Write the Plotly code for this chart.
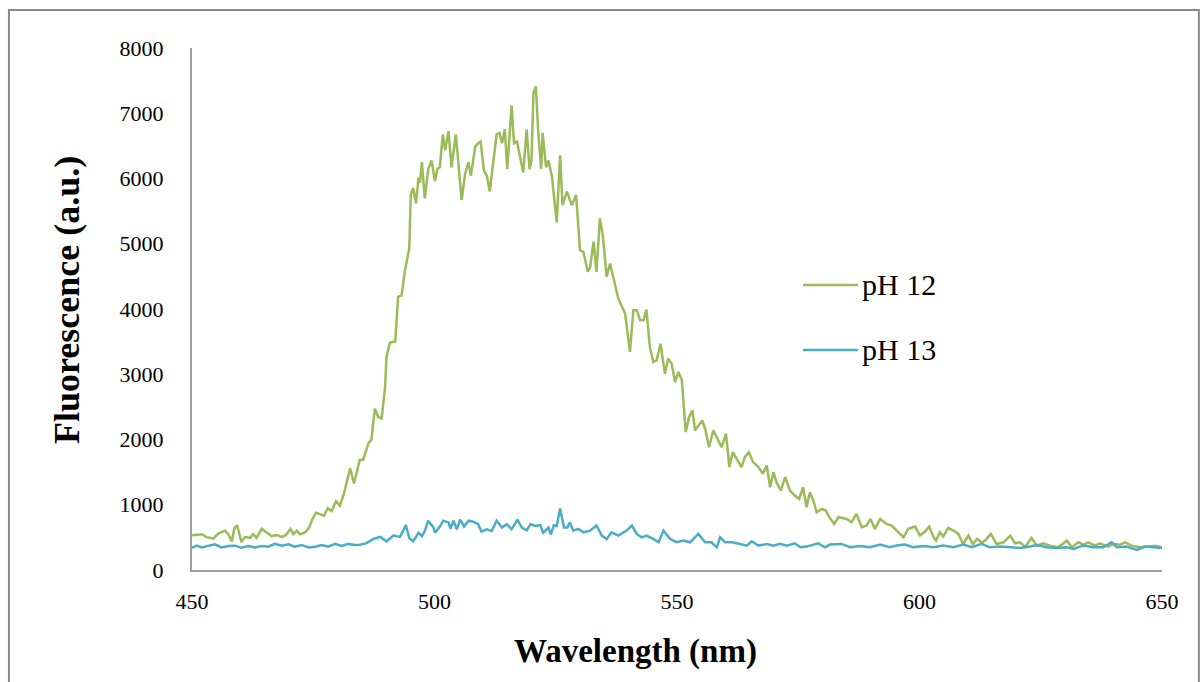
import plotly.graph_objects as go

# pH 12 spectrum (wavelength nm, fluorescence a.u.)
wl_ph12 = [450.0, 452.0, 453.0, 454.4, 455.4, 456.8, 457.5, 458.2, 458.7, 459.3, 460.2, 460.9, 462.0, 462.6, 463.3,
           464.4, 465.4, 466.4, 467.5, 468.5, 469.4, 470.3, 470.9, 471.6, 472.3, 473.3, 474.2, 474.9, 475.6, 476.4,
           477.2, 478.0, 478.8, 479.7, 480.5, 481.3, 481.9, 482.6, 483.4, 484.6, 485.3, 486.4, 487.0, 487.7, 488.4,
           489.1, 489.8, 490.1, 490.8, 491.9, 492.5, 493.2, 493.9, 494.8, 495.1, 495.6, 496.2, 496.7, 497.0, 497.4,
           498.0, 498.7, 499.4, 500.1, 500.6, 501.1, 501.7, 502.2, 502.9, 503.5, 504.4, 505.6, 506.3, 507.0, 507.5,
           508.4, 509.0, 509.5, 510.2, 510.8, 511.4, 512.1, 512.8, 513.4, 513.9, 514.5, 515.0, 515.9, 516.4, 517.0,
           517.5, 518.3, 519.0, 519.6, 520.0, 520.4, 520.9, 521.4, 522.0, 522.3, 523.0, 523.5, 524.2, 525.2, 525.9,
           526.4, 527.3, 528.3, 529.2, 530.0, 530.7, 531.6, 532.1, 532.8, 533.4, 534.1, 534.7, 535.5, 536.2, 537.0,
           537.9, 539.3, 540.3, 541.0, 541.7, 542.4, 543.1, 543.7, 544.4, 545.1, 545.8, 546.6, 547.5, 548.2, 548.9,
           549.6, 550.3, 551.0, 551.8, 552.5, 553.2, 553.7, 554.4, 555.2, 555.9, 556.6, 557.5, 558.2, 559.2, 560.1,
           560.8, 561.5, 562.3, 563.3, 564.0, 564.8, 565.7, 566.8, 567.7, 568.5, 569.2, 569.9, 570.5, 571.4, 572.3,
           573.3, 574.3, 575.2, 576.0, 576.7, 577.4, 578.1, 578.8, 579.8, 580.7, 581.4, 582.4, 583.3, 585.0, 586.0,
           587.0, 588.1, 589.1, 589.9, 590.8, 591.9, 593.2, 594.3, 595.3, 596.7, 597.7, 599.1, 600.1, 601.1, 602.0,
           602.9, 603.4, 604.2, 604.9, 605.9, 607.0, 608.0, 609.0, 610.1, 611.0, 611.9, 612.8, 613.5, 614.7, 615.9,
           617.3, 618.7, 619.7, 620.7, 621.8, 623.1, 624.2, 625.5, 626.9, 628.6, 630.4, 631.4, 632.8, 633.8, 634.8,
           636.2, 637.2, 638.9, 640.0, 641.3, 642.4, 643.7, 645.5, 646.8, 648.6, 650.0]
fl_ph12 = [531, 548, 504, 482, 559, 603, 548, 438, 630, 685, 427, 504, 493, 548, 493,
           630, 575, 520, 537, 504, 537, 630, 548, 603, 548, 575, 657, 794, 877, 849,
           833, 948, 904, 1052, 986, 1162, 1342, 1561, 1326, 1691, 1690, 1945, 2000, 2473, 2341,
           2325, 2790, 3265, 3487, 3503, 4190, 4206, 4586, 4930, 5749, 5855, 5617, 6013, 5934, 6251,
           5696, 6145, 6277, 5960, 6145, 6171, 6674, 6436, 6727, 6171, 6674, 5670, 6066, 6251, 6040,
           6489, 6542, 6568, 6119, 6040, 5802, 6225, 6674, 6700, 6542, 6753, 6145, 7123, 6542, 6568,
           6383, 6093, 6753, 6145, 6277, 7308, 7413, 6700, 6145, 6700, 6171, 6277, 6040, 5326, 6357,
           5591, 5802, 5591, 5749, 4903, 4877, 4570, 4647, 5031, 4570, 5389, 5133, 4494, 4698, 4442,
           4161, 3931, 3342, 3982, 3982, 3828, 3828, 3992, 3419, 3189, 3214, 3470, 3009, 3240, 3163,
           2881, 3035, 2907, 2114, 2344, 2446, 2139, 2216, 2293, 2139, 1883, 2139, 2037, 1883, 2088,
           1576, 1807, 1704, 1576, 1730, 1807, 1653, 1576, 1474, 1602, 1269, 1500, 1346, 1218, 1423,
           1218, 1141, 1090, 1269, 962, 1192, 1065, 885, 937, 911, 809, 706, 809, 783, 732,
           860, 655, 681, 783, 630, 783, 706, 681, 604, 502, 630, 665, 527, 589, 665,
           502, 450, 578, 512, 645, 604, 553, 399, 527, 399, 476, 425, 450, 553, 399,
           425, 527, 409, 425, 358, 491, 373, 409, 373, 348, 450, 348, 425, 389, 425,
           373, 409, 358, 399, 389, 425, 373, 348, 358, 373, 348]

# pH 13 spectrum
wl_ph13 = [450.0, 451.0, 452.0, 453.4, 454.7, 456.1, 457.5, 458.9, 460.2, 461.6, 463.0, 464.4, 465.7, 467.1, 468.5,
           469.9, 471.2, 472.6, 474.0, 475.4, 476.7, 478.1, 479.5, 480.9, 482.2, 483.6, 484.6, 486.0, 487.4, 488.8,
           490.1, 491.5, 492.9, 494.1, 494.8, 495.6, 496.7, 497.4, 498.0, 498.7, 499.8, 500.1, 501.1, 501.8, 502.9,
           503.3, 503.9, 504.6, 505.3, 506.1, 507.0, 508.0, 509.0, 509.7, 510.8, 511.8, 512.8, 513.9, 514.9, 515.9,
           517.1, 518.0, 519.0, 519.8, 520.7, 521.8, 522.4, 523.5, 524.0, 524.6, 525.2, 525.9, 526.7, 527.4, 527.9,
           528.6, 529.7, 530.7, 532.1, 533.4, 534.5, 535.5, 536.5, 537.9, 539.6, 540.7, 541.7, 542.7, 543.7, 545.1,
           546.2, 547.2, 548.6, 549.9, 551.3, 552.7, 554.4, 555.8, 557.1, 558.2, 558.9, 559.9, 561.3, 563.0, 564.4,
           565.4, 566.8, 568.5, 569.9, 571.2, 572.6, 574.3, 575.4, 576.7, 579.1, 580.5, 581.5, 583.9, 585.7, 587.7,
           589.8, 591.9, 593.9, 595.3, 597.0, 598.7, 600.8, 602.9, 604.9, 607.0, 609.0, 610.8, 612.8, 614.5, 616.6,
           618.7, 620.7, 622.8, 624.2, 626.2, 628.3, 630.4, 631.7, 633.8, 635.8, 637.9, 639.6, 640.7, 642.7, 644.8,
           646.5, 648.2, 650.0]
fl_ph13 = [340, 373, 345, 367, 394, 345, 367, 373, 340, 367, 345, 367, 356, 400, 373,
           394, 356, 384, 345, 356, 384, 356, 400, 367, 400, 384, 386, 412, 476, 507,
           439, 528, 507, 687, 491, 439, 571, 518, 597, 756, 650, 571, 666, 756, 729,
           634, 756, 624, 772, 666, 756, 740, 703, 587, 624, 597, 756, 650, 703, 624,
           772, 650, 608, 703, 676, 687, 571, 650, 544, 687, 676, 941, 650, 650, 732,
           604, 629, 578, 604, 681, 527, 476, 578, 527, 604, 681, 553, 501, 527, 476,
           425, 604, 476, 425, 450, 425, 553, 425, 425, 348, 501, 425, 425, 399, 374,
           440, 374, 399, 374, 400, 374, 410, 348, 359, 410, 348, 390, 400, 348, 369,
           348, 390, 348, 374, 390, 348, 369, 348, 374, 348, 390, 348, 400, 348, 359,
           348, 338, 359, 384, 348, 338, 348, 323, 374, 348, 348, 425, 348, 359, 307,
           359, 348, 338]

series_names = ["pH 12", "pH 13"]
series_colors = ["#9BBB59", "#4BACC6"]
x_ticks = [450, 500, 550, 600, 650]
y_ticks = [0, 1000, 2000, 3000, 4000, 5000, 6000, 7000, 8000]
x_title = "Wavelength (nm)"
y_title = "Fluorescence (a.u.)"

FONT = "Liberation Serif"
fig = go.Figure()
for wl, fl, name, col in [(wl_ph12, fl_ph12, series_names[0], series_colors[0]),
                          (wl_ph13, fl_ph13, series_names[1], series_colors[1])]:
    fig.add_trace(go.Scatter(x=wl, y=fl, mode="lines", name=name,
                             line=dict(color=col, width=2.5), showlegend=False))

# manual legend (lines + labels)
leg_y = [0.546, 0.4215]
shapes = []
annotations = []
for i, (name, col) in enumerate(zip(series_names, series_colors)):
    shapes.append(dict(type="line", xref="paper", yref="paper", x0=0.6299, x1=0.6866,
                       y0=leg_y[i], y1=leg_y[i], line=dict(color=col, width=2.5)))
    annotations.append(dict(xref="paper", yref="paper", x=0.6887, y=leg_y[i], text=name,
                            showarrow=False, xanchor="left", yanchor="middle",
                            font=dict(family=FONT, size=30, color="#000000")))
# axis titles
annotations.append(dict(xref="paper", yref="paper", x=0.4577, y=-0.157, text="<b>%s</b>" % x_title,
                        showarrow=False, xanchor="center", yanchor="middle",
                        font=dict(family=FONT, size=33, color="#000000")))
annotations.append(dict(xref="paper", yref="paper", x=-0.1289, y=0.517, text="<b>%s</b>" % y_title,
                        showarrow=False, xanchor="center", yanchor="middle", textangle=-90,
                        font=dict(family=FONT, size=36, color="#000000")))
# chart border
shapes.append(dict(type="rect", xref="paper", yref="paper", x0=-0.1887, x1=1.038,
                   y0=-0.3, y1=1.0728, line=dict(color="#8a8a8a", width=2), layer="below"))

fig.update_layout(
    width=1201, height=682,
    margin=dict(l=192, r=39, t=48, b=112),
    paper_bgcolor="white", plot_bgcolor="white",
    shapes=shapes, annotations=annotations,
    font=dict(family=FONT, color="#000000"),
)
fig.update_xaxes(range=[450, 650], tickvals=x_ticks, showgrid=False, zeroline=False,
                 showline=True, linecolor="#a0a0a0", linewidth=2, ticks="",
                 tickfont=dict(family=FONT, size=22), ticklabelstandoff=11)
fig.update_yaxes(range=[0, 8000], tickvals=y_ticks, showgrid=False, zeroline=False,
                 showline=True, linecolor="#a0a0a0", linewidth=2, ticks="",
                 tickfont=dict(family=FONT, size=22), ticklabelstandoff=22)

fig.write_html("out.html")
